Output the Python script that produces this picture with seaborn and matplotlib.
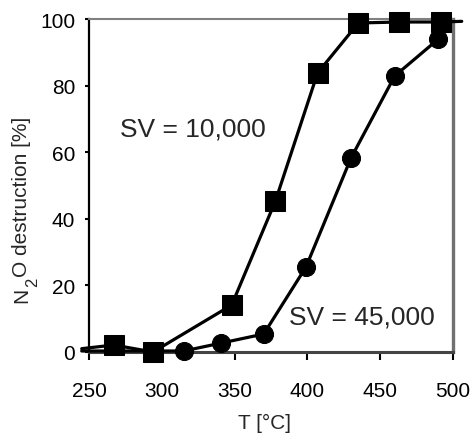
import matplotlib
matplotlib.use("Agg")
import matplotlib.pyplot as plt
import seaborn as sns
import pandas as pd

# Data
sv10_T = [245, 267, 294, 348, 378, 407, 435, 463, 492, 506]
sv10_conv = [1.0, 2.1, 0.0, 14.1, 45.3, 83.8, 98.8, 99.1, 99.1, 99.3]
sv45_T = [245, 315, 341, 370, 399, 430, 460, 490]
sv45_conv = [0.3, 0.3, 2.7, 5.4, 25.5, 58.3, 82.9, 94.0]
x_ticks = [250, 300, 350, 400, 450, 500]
y_ticks = [0, 20, 40, 60, 80, 100]

sns.set_style("white")
plt.rcParams['font.family'] = ['Liberation Sans', 'DejaVu Sans']

W, H = 474, 439
fig = plt.figure(figsize=(W / 100, H / 100), dpi=100)
ax = fig.add_axes([89 / W, 1 - 353 / H, 364 / W, 333 / H])

df10 = pd.DataFrame({"T": sv10_T, "conv": sv10_conv})
df45 = pd.DataFrame({"T": sv45_T, "conv": sv45_conv})

sns.lineplot(data=df10, x="T", y="conv", ax=ax, color="black", lw=2.3,
             marker="s", markersize=14, markeredgecolor="black",
             markevery=list(range(1, len(sv10_T) - 1)), clip_on=False,
             errorbar=None, sort=False, zorder=5)
sns.lineplot(data=df45, x="T", y="conv", ax=ax, color="black", lw=2.3,
             marker="o", markersize=13, markeredgecolor="black",
             markevery=list(range(1, len(sv45_T))), clip_on=False,
             errorbar=None, sort=False, zorder=5)

ax.set_xlim(250, 500)
ax.set_ylim(0, 100)
ax.set_xticks(x_ticks)
ax.set_yticks(y_ticks)
ax.tick_params(axis='x', direction='out', length=6, width=1.5, pad=15,
               labelsize=15, colors='black', bottom=True)
ax.tick_params(axis='y', direction='out', length=3, width=1.5, pad=7,
               labelsize=15, colors='black', left=True)

ax.set_xlabel("T [°C]", fontsize=15)
ax.xaxis.set_label_coords((264 - 89) / 364, -(423 - 353) / 333)
ax.xaxis.label.set_va('center')
ax.set_ylabel("")

# y label with a lowered subscript as in the reference
renderer = fig.canvas.get_renderer()
xb = 27 / W
y0 = 1 - 303 / H
t1 = fig.text(xb, y0, "N", rotation=90, rotation_mode='anchor',
              ha='left', va='baseline', fontsize=15)
h1 = t1.get_window_extent(renderer).height
t2 = fig.text(xb + 10 / W, y0 + (h1 + 0.5) / H, "2", rotation=90,
              rotation_mode='anchor', ha='left', va='baseline', fontsize=12)
h2 = t2.get_window_extent(renderer).height
fig.text(xb, y0 + (h1 + h2 + 1) / H, "O destruction [%]", rotation=90,
         rotation_mode='anchor', ha='left', va='baseline', fontsize=15)

ax.spines['left'].set_color('black')
ax.spines['left'].set_linewidth(1.6)
ax.spines['bottom'].set_color('#444444')
ax.spines['bottom'].set_linewidth(2.2)
ax.spines['top'].set_color('#808080')
ax.spines['top'].set_linewidth(1.5)
ax.spines['right'].set_color('#707070')
ax.spines['right'].set_linewidth(2.4)
for s in ax.spines.values():
    s.set_visible(True)

ax.text(321, 67, "SV = 10,000", fontsize=19, ha='center', va='center')
ax.text(437.5, 10.8, "SV = 45,000", fontsize=19, ha='center', va='center',
        bbox=dict(facecolor='white', edgecolor='none', pad=3), zorder=4,
        clip_on=False)

fig.savefig("out.png", dpi=100)
